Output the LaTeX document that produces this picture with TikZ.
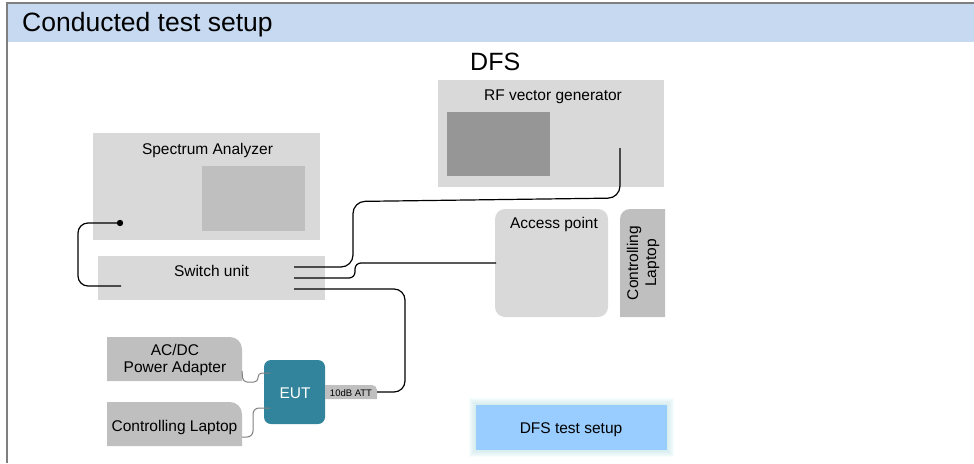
\documentclass[tikz,border=0pt]{standalone}
\usepackage{fontspec}
\setmainfont{Liberation Sans}
\definecolor{hdr}{HTML}{C6D9F1}
\definecolor{lg}{HTML}{D9D9D9}
\definecolor{mg}{HTML}{BFBFBF}
\definecolor{dg}{HTML}{969696}
\definecolor{eutc}{HTML}{31849B}
\definecolor{dfsb}{HTML}{99CCFF}
\definecolor{glowc}{HTML}{B8E0E4}
\definecolor{framec}{HTML}{7F7F7F}
\definecolor{wirec}{HTML}{808080}
\begin{document}
\begin{tikzpicture}[x=1pt,y=1pt,
  box/.style={draw=none, inner sep=0pt, outer sep=0pt, anchor=north west},
  lbl/.style={font=\fontsize{15.5}{17.5}\selectfont, inner sep=0pt, anchor=base},
  cable/.style={draw=black, line width=1.2pt},
  wire/.style={draw=wirec, line width=1pt}]
\useasboundingbox (0,0) rectangle (974,-463);
% frame and header
\fill[hdr] (7.5,-3.5) rectangle (974,-42);
\draw[framec, line width=1.5pt] (974,-3) -- (7,-3) -- (7,-463);
\node[inner sep=0pt, anchor=base west, font=\fontsize{26.5}{29}\selectfont] (title) at (22,-31.5) {Conducted test setup};
\node[inner sep=0pt, anchor=base west, font=\fontsize{25}{28}\selectfont] (dfs) at (470,-70) {DFS};
% RF vector generator
\node[box, fill=lg, minimum width=226, minimum height=107] (rf) at (438,-80) {};
\node[box, fill=dg, minimum width=103, minimum height=64] (rfscr) at (447,-112) {};
\node[lbl] (rft) at (553,-100) {RF vector generator};
% Spectrum analyzer
\node[box, fill=lg, minimum width=227, minimum height=107] (sa) at (93,-133) {};
\node[box, fill=mg, minimum width=103, minimum height=65] (sascr) at (202,-166) {};
\node[lbl] (sat) at (207.5,-154) {Spectrum Analyzer};
% Switch unit
\node[box, fill=lg, minimum width=227, minimum height=44] (sw) at (98,-256) {};
\node[lbl] (swt) at (211.5,-276) {Switch unit};
% Access point
\node[box, fill=lg, rounded corners=10pt, minimum width=113, minimum height=108] (ap) at (495,-209) {};
\node[lbl] (apt) at (554,-228) {Access point};
% Controlling laptop (vertical)
\fill[mg] (665,-317) -- (620,-317) -- (620,-219) arc[start angle=180,end angle=90,radius=10] -- (665,-209) -- cycle;
\node[inner sep=0pt, rotate=90, align=center, font=\fontsize{15.5}{18}\selectfont] (cl) at (643,-263) {Controlling\\Laptop};
% AC/DC adapter
\fill[mg] (107,-381) -- (107,-337) -- (230,-337) arc[start angle=90,end angle=0,radius=12] -- (242,-381) -- cycle;
\node[lbl] (ac1) at (175,-355) {AC/DC};
\node[lbl] (ac2) at (175,-372) {Power Adapter};
% Controlling laptop (bottom)
\fill[mg] (107,-446) -- (107,-402) -- (230,-402) arc[start angle=90,end angle=0,radius=12] -- (242,-446) -- cycle;
\node[lbl] (lt) at (174.5,-431) {Controlling Laptop};
% EUT
\node[box, fill=eutc, rounded corners=7pt, minimum width=61, minimum height=64] (eut) at (264,-360) {};
\node[lbl, text=white] (eutt) at (295,-398) {EUT};
% attenuator
\fill[mg] (325,-399) -- (325,-385) -- (372,-385) arc[start angle=90,end angle=0,radius=5] -- (377,-399) -- cycle;
\node[inner sep=0pt, anchor=base, font=\fontsize{9.5}{11}\selectfont] (att) at (351,-396) {10dB ATT};
% DFS test setup with glow
\foreach \g in {1,...,7} {\fill[glowc, opacity=0.11] (476-\g,-405+\g) rectangle (667+\g,-450-\g);}
\node[box, fill=dfsb, minimum width=191, minimum height=45] (dts) at (476,-405) {};
\node[lbl] (dtst) at (571,-433) {DFS test setup};
% ports
\coordinate (swA) at (294,-267);
\coordinate (swB) at (294,-278);
\coordinate (swC) at (294,-289);
\coordinate (rfport) at (620,-148);
\coordinate (apin) at (496,-263);
\coordinate (attout) at (377,-392);
\coordinate (sadot) at (120,-223);
\coordinate (swin) at (121,-286);
\coordinate (acout) at (242,-371);
\coordinate (eutin1) at (270,-373);
\coordinate (lapout) at (242,-437);
\coordinate (eutin2) at (270,-408);
% cables
\draw[cable, rounded corners=12pt] (swA) -- (353,-267) -- (353,-201.5) -- (620,-198) -- (rfport);
\draw[cable, rounded corners=6pt] (swB) -- (355,-278) -- (355,-263) -- (apin);
\draw[cable, rounded corners=11pt] (swC) -- (405,-289) -- (405,-392) -- (attout);
\draw[cable, rounded corners=10pt] (sadot) -- (78,-223) -- (78,-286) -- (swin);
\fill (sadot) circle (3.2);
% power / control wires
\draw[wire, rounded corners=4pt] (acout) -- (243,-382) -- (258,-382) -- (258,-373) -- (eutin1);
\draw[wire, rounded corners=6pt] (lapout) -- (253,-437) -- (253,-408) -- (eutin2);
\end{tikzpicture}
\end{document}
